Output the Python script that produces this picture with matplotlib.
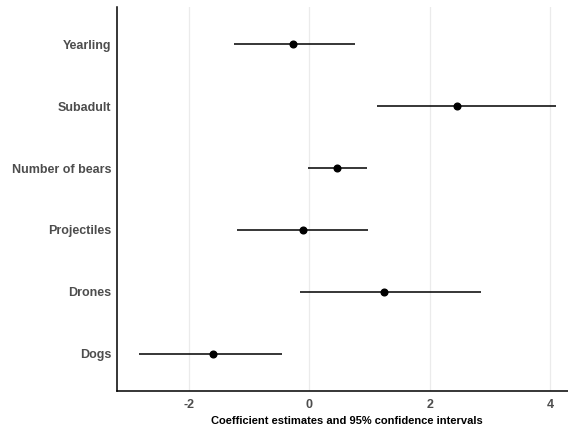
import numpy as np
import matplotlib.pyplot as plt

# data
terms = ["Yearling", "Subadult", "Number of bears", "Projectiles", "Drones", "Dogs"]
estimate = [-0.27, 2.46, 0.46, -0.10, 1.24, -1.61]
lower = [-1.26, 1.13, -0.02, -1.21, -0.15, -2.84]
upper = [0.75, 4.10, 0.96, 0.98, 2.85, -0.45]
xticks = [-2, 0, 2, 4]

plt.rcParams['font.family'] = ['Liberation Sans', 'DejaVu Sans']

fig = plt.figure(figsize=(5.68, 4.26), dpi=100)
ax = fig.add_axes([117/568, 35/426, 451/568, 384/426])

ypos = np.arange(len(terms))[::-1] + 1
est = np.array(estimate)
lo = np.array(lower)
hi = np.array(upper)

ax.hlines(ypos, lo, hi, color="black", lw=1.1, zorder=3)
ax.plot(est, ypos, "o", color="black", markersize=4.8, zorder=4)

ax.set_xlim(-3.2, 4.3)
ax.set_ylim(0.4, 6.6)
ax.set_xticks(xticks)
ax.set_xticklabels([str(t) for t in xticks])
ax.set_yticks(ypos)
ax.set_yticklabels(terms)
ax.grid(axis="x", color="#EBEBEB", lw=0.9)
ax.set_axisbelow(True)

for s in ["top", "right"]:
    ax.spines[s].set_visible(False)
for s in ["left", "bottom"]:
    ax.spines[s].set_color("black")
    ax.spines[s].set_linewidth(1.1)

ax.tick_params(length=0, labelsize=9, labelcolor="#4D4D4D")
ax.tick_params(axis="y", pad=4)
ax.tick_params(axis="x", pad=6)
for lab in ax.get_xticklabels() + ax.get_yticklabels():
    lab.set_fontweight("bold")

ax.set_xlabel("Coefficient estimates and 95% confidence intervals",
              fontsize=8, fontweight="bold", labelpad=1)
ax.xaxis.set_label_coords(0.51, -0.065)

fig.savefig("out.png", dpi=100)
